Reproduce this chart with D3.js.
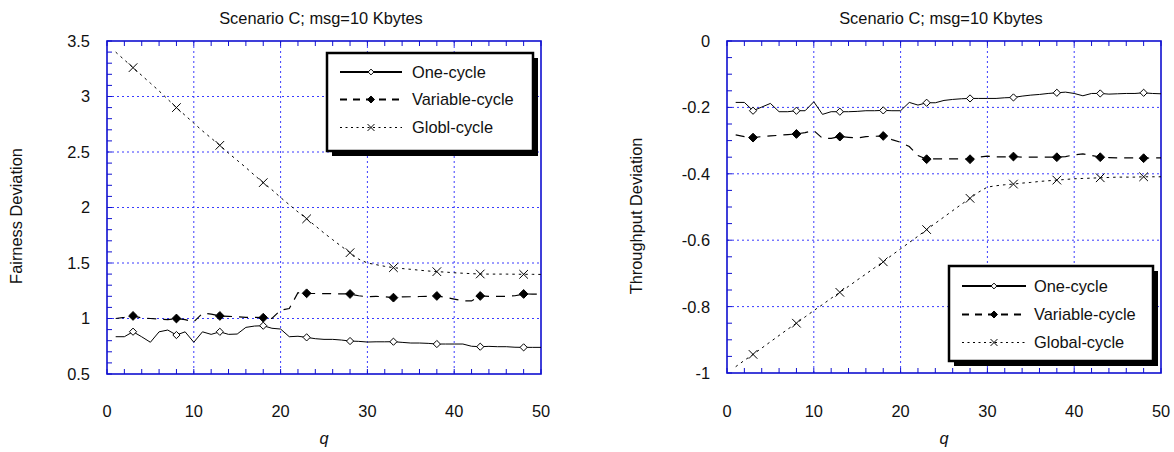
<!DOCTYPE html>
<html>
<head>
<meta charset="utf-8">
<script src="https://cdn.jsdelivr.net/npm/d3@7"></script>
<style>
  html, body { margin: 0; padding: 0; background: #fff; }
  svg { display: block; font-family: "Liberation Sans", Arial, sans-serif; }
</style>
</head>
<body>
<svg id="chart" width="1174" height="452"></svg>
<script>
// ---------------- DATA ----------------
const q = d3.range(1, 51); // 1..50
const markerQ = [3, 8, 13, 18, 23, 28, 33, 38, 43, 48];

const fairOne = [0.836,0.836,0.881,0.835,0.786,0.880,0.896,0.851,0.880,0.786,
                 0.880,0.857,0.880,0.857,0.860,0.920,0.932,0.935,0.912,0.905,
                 0.836,0.840,0.830,0.818,0.812,0.812,0.806,0.797,0.794,0.788,
                 0.790,0.790,0.791,0.785,0.779,0.779,0.776,0.770,0.770,0.770,
                 0.770,0.750,0.746,0.749,0.746,0.746,0.741,0.740,0.740,0.740];
const fairVar = [1.000,1.010,1.023,1.005,1.000,0.995,0.990,1.000,0.990,0.970,
                 1.047,1.040,1.023,1.020,1.015,1.010,1.010,1.007,1.000,1.075,
                 1.090,1.232,1.227,1.225,1.225,1.223,1.222,1.221,1.205,1.196,
                 1.200,1.195,1.188,1.195,1.196,1.198,1.200,1.203,1.190,1.175,
                 1.160,1.158,1.203,1.200,1.200,1.200,1.205,1.221,1.220,1.220];
const fairGlob = [3.400,3.330,3.260,3.190,3.120,3.050,2.975,2.900,2.830,2.760,
                  2.690,2.625,2.560,2.490,2.425,2.360,2.290,2.224,2.160,2.090,
                  2.025,1.960,1.898,1.835,1.770,1.710,1.650,1.593,1.535,1.500,
                  1.485,1.470,1.458,1.450,1.443,1.435,1.428,1.422,1.418,1.412,
                  1.408,1.404,1.401,1.400,1.400,1.400,1.399,1.398,1.398,1.397];

const thrOne = [-0.185,-0.185,-0.210,-0.199,-0.188,-0.213,-0.213,-0.210,-0.210,-0.183,
                -0.221,-0.213,-0.213,-0.213,-0.212,-0.210,-0.210,-0.209,-0.210,-0.210,
                -0.185,-0.193,-0.186,-0.186,-0.179,-0.176,-0.174,-0.173,-0.173,-0.173,
                -0.173,-0.171,-0.170,-0.166,-0.163,-0.161,-0.158,-0.156,-0.154,-0.158,
                -0.165,-0.158,-0.158,-0.160,-0.159,-0.158,-0.158,-0.156,-0.158,-0.159];
const thrVar = [-0.283,-0.288,-0.291,-0.288,-0.286,-0.284,-0.282,-0.280,-0.276,-0.270,
                -0.293,-0.293,-0.288,-0.290,-0.292,-0.288,-0.287,-0.286,-0.297,-0.305,
                -0.318,-0.345,-0.356,-0.355,-0.355,-0.355,-0.355,-0.356,-0.350,-0.347,
                -0.349,-0.349,-0.348,-0.350,-0.350,-0.350,-0.350,-0.350,-0.348,-0.343,
                -0.340,-0.345,-0.350,-0.351,-0.352,-0.352,-0.352,-0.353,-0.352,-0.352];
const thrGlob = [-0.981,-0.962,-0.944,-0.925,-0.906,-0.887,-0.868,-0.850,-0.831,-0.812,
                 -0.794,-0.775,-0.757,-0.739,-0.720,-0.702,-0.683,-0.665,-0.645,-0.626,
                 -0.607,-0.588,-0.568,-0.549,-0.530,-0.511,-0.492,-0.474,-0.455,-0.440,
                 -0.436,-0.433,-0.431,-0.428,-0.426,-0.423,-0.421,-0.419,-0.417,-0.415,
                 -0.414,-0.413,-0.412,-0.411,-0.410,-0.410,-0.410,-0.409,-0.409,-0.409];

const titleText = "Scenario C; msg=10 Kbytes";
const xTicks = [0, 10, 20, 30, 40, 50];
const fairTicks = [0.5, 1, 1.5, 2, 2.5, 3, 3.5];
const thrTicks = [-1, -0.8, -0.6, -0.4, -0.2, 0];
const leftLegend = ["One-cycle", "Variable-cycle", "Globl-cycle"];
const rightLegend = ["One-cycle", "Variable-cycle", "Global-cycle"];

// ---------------- DRAW ----------------
const svg = d3.select("#chart");
const FS = 16.4;
const BLUE = "#1010d0";
const GRID = "#3b3bff";

function panel(opt) {
  const g = svg.append("g");
  const x = d3.scaleLinear().domain([0, 50]).range([opt.x0, opt.x1]);
  const y = d3.scaleLinear().domain(opt.yDomain).range([opt.y1, opt.y0]);

  // grid
  const gx = xTicks.filter(t => t > 0 && t < 50);
  const gy = opt.yTicks.filter(t => t > opt.yDomain[0] && t < opt.yDomain[1]);
  g.selectAll(".gx").data(gx).join("line")
    .attr("x1", d => x(d)).attr("x2", d => x(d))
    .attr("y1", opt.y0).attr("y2", opt.y1)
    .attr("stroke", GRID).attr("stroke-width", 1).attr("stroke-dasharray", "2,3");
  g.selectAll(".gy").data(gy).join("line")
    .attr("x1", opt.x0).attr("x2", opt.x1)
    .attr("y1", d => y(d)).attr("y2", d => y(d))
    .attr("stroke", GRID).attr("stroke-width", 1).attr("stroke-dasharray", "2,3");

  // minor ticks
  const mx = d3.range(0, 50.001, 2);
  const TL = 5;
  g.selectAll(".tb").data(mx).join("line")
    .attr("x1", d => x(d)).attr("x2", d => x(d))
    .attr("y1", opt.y1).attr("y2", opt.y1 - TL)
    .attr("stroke", BLUE).attr("stroke-width", 1);
  g.selectAll(".tt").data(mx).join("line")
    .attr("x1", d => x(d)).attr("x2", d => x(d))
    .attr("y1", opt.y0).attr("y2", opt.y0 + TL)
    .attr("stroke", BLUE).attr("stroke-width", 1);
  const ny = Math.round((opt.yDomain[1] - opt.yDomain[0]) / opt.yMinor);
  const my = d3.range(0, ny + 1).map(i => opt.yDomain[0] + i * opt.yMinor);
  g.selectAll(".tl").data(my).join("line")
    .attr("x1", opt.x0).attr("x2", opt.x0 + TL)
    .attr("y1", d => y(d)).attr("y2", d => y(d))
    .attr("stroke", BLUE).attr("stroke-width", 1);

  // frame
  g.append("rect")
    .attr("x", opt.x0).attr("y", opt.y0)
    .attr("width", opt.x1 - opt.x0).attr("height", opt.y1 - opt.y0)
    .attr("fill", "none").attr("stroke", BLUE).attr("stroke-width", 1.6);

  // tick labels
  g.selectAll(".xl").data(xTicks).join("text")
    .attr("x", d => x(d)).attr("y", 417)
    .attr("text-anchor", "middle").attr("font-size", FS).attr("fill", "#111")
    .text(d => d);
  g.selectAll(".yl").data(opt.yTicks).join("text")
    .attr("x", opt.x0 - 17).attr("y", d => y(d)).attr("dy", "0.36em")
    .attr("text-anchor", "end").attr("font-size", FS).attr("fill", "#111")
    .text(d => d3.format("")(d).replace("−", "-"));

  // titles
  g.append("text").attr("x", (opt.x0 + opt.x1) / 2 - 3).attr("y", 24)
    .attr("text-anchor", "middle").attr("font-size", FS).attr("fill", "#111")
    .text(titleText);
  g.append("text").attr("x", (opt.x0 + opt.x1) / 2).attr("y", 444)
    .attr("text-anchor", "middle").attr("font-size", FS).attr("font-style", "italic").attr("fill", "#111")
    .text("q");
  g.append("text")
    .attr("transform", `translate(${opt.ylabX},216) rotate(-90)`)
    .attr("text-anchor", "middle").attr("font-size", FS).attr("fill", "#111")
    .text(opt.ylabel);

  // series
  const clipId = "clip" + opt.id;
  svg.append("defs").append("clipPath").attr("id", clipId)
    .append("rect").attr("x", opt.x0).attr("y", opt.y0)
    .attr("width", opt.x1 - opt.x0).attr("height", opt.y1 - opt.y0);
  const sg = g.append("g").attr("clip-path", `url(#${clipId})`);
  const line = d3.line().x((d, i) => x(q[i])).y(d => y(d));

  const series = [
    { vals: opt.one, dash: null, w: 1, kind: "open" },
    { vals: opt.vari, dash: "9,7", w: 1.2, kind: "fill" },
    { vals: opt.glob, dash: "2.5,4", w: 1, kind: "x" }
  ];
  series.forEach(s => {
    sg.append("path").attr("d", line(s.vals))
      .attr("fill", "none").attr("stroke", "#000").attr("stroke-width", s.w)
      .attr("stroke-dasharray", s.dash);
    const pts = markerQ.map(m => ({ q: m, v: s.vals[q.indexOf(m)] }));
    drawMarkers(sg, pts.map(p => [x(p.q), y(p.v)]), s.kind, 1);
  });

  // legend
  const L = opt.legend;
  const lg = g.append("g");
  lg.append("rect").attr("x", L.x + 5).attr("y", L.y + 5).attr("width", L.w).attr("height", L.h).attr("fill", "#000");
  lg.append("rect").attr("x", L.x).attr("y", L.y).attr("width", L.w).attr("height", L.h)
    .attr("fill", "#fff").attr("stroke", "#000").attr("stroke-width", 2.5);
  const ldash = [null, "7,6", "2,3.5"];
  const lw = [2, 2.2, 1];
  const kinds = ["open", "fill", "x"];
  L.labels.forEach((lab, i) => {
    const ry = L.y + L.rows[i];
    lg.append("line").attr("x1", L.x + L.lx0).attr("x2", L.x + L.lx1)
      .attr("y1", ry).attr("y2", ry).attr("stroke", "#000")
      .attr("stroke-width", lw[i]).attr("stroke-dasharray", ldash[i]);
    drawMarkers(lg, [[L.x + (L.lx0 + L.lx1) / 2, ry]], kinds[i], 0.8);
    lg.append("text").attr("x", L.x + L.tx).attr("y", ry).attr("dy", "0.36em")
      .attr("font-size", FS).attr("fill", "#111").text(lab);
  });
}

function drawMarkers(g, pts, kind, k) {
  if (kind === "open" || kind === "fill") {
    const r = (kind === "open" ? 3.6 : 4.4) * k;
    g.selectAll(null).data(pts).join("path")
      .attr("d", d => `M${d[0]},${d[1] - r}L${d[0] + r},${d[1]}L${d[0]},${d[1] + r}L${d[0] - r},${d[1]}Z`)
      .attr("fill", kind === "open" ? "#fff" : "#000")
      .attr("stroke", "#000").attr("stroke-width", 1);
  } else {
    const r = 4.3 * k;
    g.selectAll(null).data(pts).join("path")
      .attr("d", d => `M${d[0] - r},${d[1] - r}L${d[0] + r},${d[1] + r}M${d[0] - r},${d[1] + r}L${d[0] + r},${d[1] - r}`)
      .attr("fill", "none").attr("stroke", "#000").attr("stroke-width", 1);
  }
}

panel({
  id: "L", x0: 107, x1: 541, y0: 41, y1: 374,
  yDomain: [0.5, 3.5], yTicks: fairTicks, yMinor: 0.1,
  ylabel: "Fairness Deviation", ylabX: 22,
  one: fairOne, vari: fairVar, glob: fairGlob,
  legend: { x: 327, y: 53, w: 206, h: 98, rows: [19, 46.5, 74.5], lx0: 13, lx1: 75, tx: 85, labels: leftLegend }
});
panel({
  id: "R", x0: 727, x1: 1161, y0: 41, y1: 373,
  yDomain: [-1, 0], yTicks: thrTicks, yMinor: 0.05,
  ylabel: "Throughput Deviation", ylabX: 642,
  one: thrOne, vari: thrVar, glob: thrGlob,
  legend: { x: 949, y: 266, w: 204, h: 95, rows: [20, 48.5, 76.5], lx0: 13, lx1: 77, tx: 85, labels: rightLegend }
});
</script>
</body>
</html>
